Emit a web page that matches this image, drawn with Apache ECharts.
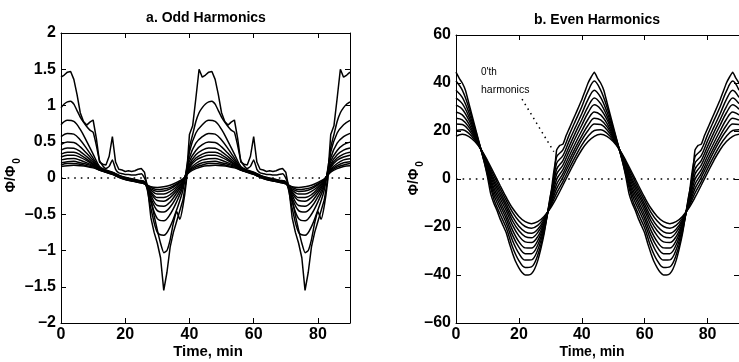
<!DOCTYPE html>
<html>
<head>
<meta charset="utf-8">
<script src="https://cdn.jsdelivr.net/npm/echarts@6/dist/echarts.min.js"></script>
<style>
html,body{margin:0;padding:0;background:#fff;}
#chart{width:739px;height:362px;}
</style>
</head>
<body>
<div id="chart"></div>
<script>
// ---------- time grids (min) ----------
const T2 = [0,2,4,6,8,10,12,14,16,18,20,22,24,26,28,30,32,34,36,38,40,42,44,46,48,50,52,54,56,58,60,62,64,66,68,70,72,74,76,78,80,82,84,86,88,90];
const T1 = [0,1,2,3,4,5,6,7,8,9,10,11,12,13,14,15,16,17,18,19,20,21,22,23,24,25,26,27,28,29,30,31,32,33,34,35,36,37,38,39,40,41,42,43,44,45,46,47,48,49,50,51,52,53,54,55,56,57,58,59,60,61,62,63,64,65,66,67,68,69,70,71,72,73,74,75,76,77,78,79,80,81,82,83,84,85,86,87,88,89,90];

// ---------- a. Odd harmonics (Phi/Phi0) ----------
const oddK0 = [0.16,0.17,0.175,0.17,0.16,0.14,0.11,0.08,0.05,0.01,-0.02,-0.04,-0.06,-0.08,-0.12,-0.13,-0.12,-0.10,-0.06,-0.01,0.08,0.13,
0.16,0.17,0.175,0.17,0.16,0.14,0.11,0.08,0.05,0.01,-0.02,-0.04,-0.06,-0.08,-0.12,-0.13,-0.12,-0.10,-0.06,-0.01,0.08,0.13,0.16,0.17];
const oddK1 = [0.18,0.20,0.20,0.19,0.17,0.15,0.11,0.08,0.05,0.01,-0.02,-0.04,-0.06,-0.08,-0.13,-0.16,-0.15,-0.13,-0.08,-0.02,0.09,0.15,
0.18,0.20,0.20,0.19,0.17,0.15,0.11,0.08,0.05,0.01,-0.02,-0.04,-0.06,-0.08,-0.13,-0.16,-0.15,-0.13,-0.08,-0.02,0.09,0.15,0.18,0.20];
const oddK2 = [0.21,0.225,0.23,0.21,0.19,0.16,0.11,0.085,0.055,0.015,-0.015,-0.035,-0.055,-0.075,-0.15,-0.185,-0.18,-0.15,-0.095,-0.02,0.105,0.17,
0.21,0.225,0.23,0.21,0.19,0.16,0.11,0.085,0.055,0.015,-0.015,-0.035,-0.055,-0.075,-0.15,-0.185,-0.18,-0.15,-0.095,-0.02,0.105,0.17,0.21,0.225];
const oddK3 = [0.25,0.265,0.27,0.245,0.21,0.17,0.12,0.09,0.06,0.02,-0.01,-0.03,-0.05,-0.07,-0.165,-0.22,-0.22,-0.185,-0.12,-0.03,0.12,0.20,
0.25,0.265,0.27,0.245,0.21,0.17,0.12,0.09,0.06,0.02,-0.01,-0.03,-0.05,-0.07,-0.165,-0.22,-0.22,-0.185,-0.12,-0.03,0.12,0.20,0.25,0.265];
const oddK4 = [0.29,0.315,0.315,0.285,0.24,0.185,0.12,0.09,0.06,0.02,-0.01,-0.03,-0.05,-0.07,-0.19,-0.27,-0.27,-0.23,-0.145,-0.045,0.145,0.245,
0.29,0.315,0.315,0.285,0.24,0.185,0.12,0.09,0.06,0.02,-0.01,-0.03,-0.05,-0.07,-0.19,-0.27,-0.27,-0.23,-0.145,-0.045,0.145,0.245,0.29,0.315];
const oddK5 = [0.33,0.355,0.355,0.32,0.26,0.195,0.125,0.095,0.065,0.025,-0.005,-0.025,-0.045,-0.065,-0.21,-0.31,-0.32,-0.27,-0.175,-0.055,0.165,0.275,
0.33,0.355,0.355,0.32,0.26,0.195,0.125,0.095,0.065,0.025,-0.005,-0.025,-0.045,-0.065,-0.21,-0.31,-0.32,-0.27,-0.175,-0.055,0.165,0.275,0.33,0.355];
const oddK6 = [0.385,0.415,0.41,0.365,0.295,0.215,0.13,0.10,0.07,0.03,0.0,-0.02,-0.04,-0.06,-0.24,-0.38,-0.39,-0.33,-0.21,-0.07,0.19,0.32,
0.385,0.415,0.41,0.365,0.295,0.215,0.13,0.10,0.07,0.03,0.0,-0.02,-0.04,-0.06,-0.24,-0.38,-0.39,-0.33,-0.21,-0.07,0.19,0.32,0.385,0.415];
const oddK7 = [0.46,0.495,0.49,0.43,0.34,0.24,0.135,0.10,0.07,0.03,0.0,-0.02,-0.04,-0.06,-0.28,-0.45,-0.47,-0.40,-0.26,-0.09,0.23,0.38,
0.46,0.495,0.49,0.43,0.34,0.24,0.135,0.10,0.07,0.03,0.0,-0.02,-0.04,-0.06,-0.28,-0.45,-0.47,-0.40,-0.26,-0.09,0.23,0.38,0.46,0.495];
const oddK8 = [0.57,0.615,0.605,0.525,0.405,0.275,0.145,0.105,0.075,0.035,0.005,-0.015,-0.035,-0.055,-0.33,-0.56,-0.59,-0.50,-0.33,-0.11,0.28,0.48,
0.57,0.615,0.605,0.525,0.405,0.275,0.145,0.105,0.075,0.035,0.005,-0.015,-0.035,-0.055,-0.33,-0.56,-0.59,-0.50,-0.33,-0.11,0.28,0.48,0.57,0.615];
const oddK9 = [0.735,0.795,0.78,0.67,0.505,0.33,0.16,0.11,0.08,0.04,0.01,-0.01,-0.03,-0.05,-0.42,-0.75,-0.79,-0.67,-0.44,-0.16,0.36,0.62,
0.735,0.795,0.78,0.67,0.505,0.33,0.16,0.11,0.08,0.04,0.01,-0.01,-0.03,-0.05,-0.42,-0.75,-0.79,-0.67,-0.44,-0.16,0.36,0.62,0.735,0.795];
const oddK10 = [0.97,1.02,1.05,1.06,1.02,0.93,0.84,0.77,0.71,0.66,0.63,0.45,0.24,0.17,0.13,0.16,0.25,0.12,0.07,0.06,0.05,0.05,0.04,0.04,0.05,0.06,0.0,-0.12,-0.3,-0.52,-0.72,-0.9,-1.03,-1.0,-0.85,-0.62,-0.46,-0.57,-0.38,-0.06,0.42,0.6,0.78,0.9,
0.97,1.02,1.05,1.06,1.02,0.93,0.84,0.77,0.71,0.66,0.63,0.45,0.24,0.17,0.13,0.16,0.25,0.12,0.07,0.06,0.05,0.05,0.04,0.04,0.05,0.06,0.0,-0.12,-0.3,-0.52,-0.72,-0.9,-1.03,-1.0,-0.85,-0.62,-0.46,-0.57,-0.38,-0.06,0.42,0.6,0.78,0.9,
0.97,1.02,1.05];
const oddK11 = [1.39,1.42,1.46,1.47,1.36,1.15,0.9,0.78,0.73,0.77,0.8,0.55,0.22,0.19,0.18,0.3,0.57,0.22,0.12,0.11,0.09,0.1,0.09,0.1,0.12,0.13,0.08,-0.15,-0.55,-0.75,-0.9,-1.1,-1.55,-1.3,-0.95,-0.75,-0.6,-0.45,-0.3,-0.02,0.6,0.72,1.1,1.5,
1.39,1.42,1.46,1.47,1.36,1.15,0.9,0.78,0.73,0.77,0.8,0.55,0.22,0.19,0.18,0.3,0.57,0.22,0.12,0.11,0.09,0.1,0.09,0.1,0.12,0.13,0.08,-0.15,-0.55,-0.75,-0.9,-1.1,-1.55,-1.3,-0.95,-0.75,-0.6,-0.45,-0.3,-0.02,0.6,0.72,1.1,1.5,
1.39,1.42,1.46];

// ---------- b. Even harmonics (Phi/Phi0) ----------
const evenK0 = [17.8,18.6,17.8,15.6,12.2,7.7,2.6,-2.6,-7.7,-12.2,-15.6,-17.8,-18.6,-17.8,-15.6,-12.2,-7.7,-2.6,2.6,7.7,12.2,15.6,
17.8,18.6,17.8,15.6,12.2,7.7,2.6,-2.6,-7.7,-12.2,-15.6,-17.8,-18.6,-17.8,-15.6,-12.2,-7.7,-2.6,2.6,7.7,12.2,15.6,17.8,18.6];
const evenK1 = [20.2,20.5,19.1,16.2,12.2,7.1,1.5,-3.9,-9.0,-13.9,-17.5,-19.8,-20.5,-19.3,-16.3,-11.7,-5.9,-1.1,4.3,9.4,14.1,17.8,
20.2,20.5,19.1,16.2,12.2,7.1,1.5,-3.9,-9.0,-13.9,-17.5,-19.8,-20.5,-19.3,-16.3,-11.7,-5.9,-1.1,4.3,9.4,14.1,17.8,20.2,20.5];
const evenK2 = [22.9,22.7,20.5,16.8,12.2,6.4,0.2,-5.2,-10.5,-15.8,-19.7,-22.0,-22.6,-20.9,-17.0,-11.2,-4.0,0.7,6.1,11.4,16.2,20.2,
22.9,22.7,20.5,16.8,12.2,6.4,0.2,-5.2,-10.5,-15.8,-19.7,-22.0,-22.6,-20.9,-17.0,-11.2,-4.0,0.7,6.1,11.4,16.2,20.2,22.9,22.7];
const evenK3 = [25.3,24.6,21.8,17.4,12.1,5.8,-0.9,-6.5,-11.8,-17.5,-21.6,-24.0,-24.5,-22.3,-17.7,-10.7,-2.2,2.2,7.8,13.1,18.0,22.4,
25.3,24.6,21.8,17.4,12.1,5.8,-0.9,-6.5,-11.8,-17.5,-21.6,-24.0,-24.5,-22.3,-17.7,-10.7,-2.2,2.2,7.8,13.1,18.0,22.4,25.3,24.6];
const evenK4 = [27.9,26.7,23.2,18.0,12.1,5.2,-2.2,-7.9,-13.3,-19.3,-23.7,-26.2,-26.5,-24.0,-18.4,-10.2,-0.2,3.9,9.6,15.0,20.1,24.9,
27.9,26.7,23.2,18.0,12.1,5.2,-2.2,-7.9,-13.3,-19.3,-23.7,-26.2,-26.5,-24.0,-18.4,-10.2,-0.2,3.9,9.6,15.0,20.1,24.9,27.9,26.7];
const evenK5 = [30.9,29.1,24.8,18.7,12.1,4.4,-3.6,-9.4,-15.0,-21.4,-26.1,-28.7,-28.8,-25.7,-19.2,-9.7,2.0,5.8,11.6,17.2,22.4,27.6,
30.9,29.1,24.8,18.7,12.1,4.4,-3.6,-9.4,-15.0,-21.4,-26.1,-28.7,-28.8,-25.7,-19.2,-9.7,2.0,5.8,11.6,17.2,22.4,27.6,30.9,29.1];
const evenK6 = [33.8,31.4,26.3,19.4,12.1,3.7,-5.0,-10.9,-16.6,-23.5,-28.4,-31.1,-31.1,-27.5,-20.0,-9.1,4.1,7.7,13.6,19.3,24.7,30.2,
33.8,31.4,26.3,19.4,12.1,3.7,-5.0,-10.9,-16.6,-23.5,-28.4,-31.1,-31.1,-27.5,-20.0,-9.1,4.1,7.7,13.6,19.3,24.7,30.2,33.8,31.4];
const evenK7 = [37.0,34.0,28.0,20.2,12.1,2.9,-6.5,-12.6,-18.4,-25.7,-31.0,-33.8,-33.7,-29.5,-20.9,-8.5,6.5,9.7,15.9,21.6,27.2,33.2,
37.0,34.0,28.0,20.2,12.1,2.9,-6.5,-12.6,-18.4,-25.7,-31.0,-33.8,-33.7,-29.5,-20.9,-8.5,6.5,9.7,15.9,21.6,27.2,33.2,37.0,34.0];
const evenK8 = [40.8,37.0,30.0,21.1,12.0,1.9,-8.2,-14.6,-20.4,-28.4,-34.0,-36.9,-36.6,-31.7,-22.0,-7.7,9.2,12.1,18.4,24.3,30.1,36.6,
40.8,37.0,30.0,21.1,12.0,1.9,-8.2,-14.6,-20.4,-28.4,-34.0,-36.9,-36.6,-31.7,-22.0,-7.7,9.2,12.1,18.4,24.3,30.1,36.6,40.8,37.0];
const evenK9 = [44.5,42,40,37,32,27,22,17,12,7,1,-6,-10,-13,-16.5,-19.5,-22.5,-27,-31,-34.5,-37,-39,-40,-40,-39.5,-37.5,-34,-29,-23,-15,-7,-1,12,14,14.5,18,21,24,27,30,33,36.5,40,42.5,
44.5,42,40,37,32,27,22,17,12,7,1,-6,-10,-13,-16.5,-19.5,-22.5,-27,-31,-34.5,-37,-39,-40,-40,-39.5,-37.5,-34,-29,-23,-15,-7,-1,12,14,14.5,18,21,24,27,30,33,36.5,40,42.5,
44.5,42,40];

// annotation "0'th harmonics" pointer (data coords of panel b)
const ANNOT_T = [21.0, 31.1];
const ANNOT_V = [33.3, 11.4];
const ZERO_T = [0, 90];
const ZERO_V = [0, 0];

// ---------- build ----------
const FONT = '"Liberation Sans", Arial, Helvetica, sans-serif';
function pairs(ts, vs){ return ts.map((t,i)=>[t, vs[i]]); }
function curve(name, ts, vs, gi, smooth){
  return {
    name, type:'line', xAxisIndex: gi*2, yAxisIndex: gi*2, data: pairs(ts, vs),
    showSymbol:false, symbol:'none', smooth: smooth, silent:true,
    lineStyle:{color:'#000', width:1.5}, z:3
  };
}
function dotted(ts, vs, gi){
  return {
    type:'line', xAxisIndex: gi*2, yAxisIndex: gi*2, data: pairs(ts, vs),
    showSymbol:false, symbol:'none', silent:true,
    lineStyle:{color:'#000', width:1.6, type:[1.6,5]}, z:2
  };
}
const series = [];
series.push(dotted(ZERO_T, ZERO_V, 0));
[oddK0,oddK1,oddK2,oddK3,oddK4,oddK5,oddK6,oddK7,oddK8,oddK9].forEach((v,i)=>series.push(curve('odd'+i, T2, v, 0, 0.35)));
series.push(curve('odd10', T1, oddK10, 0, 0.15));
series.push(curve('odd11', T1, oddK11, 0, false));
series.push(dotted(ZERO_T, ZERO_V, 1));
series.push(Object.assign(dotted(ANNOT_T, ANNOT_V, 1), {lineStyle:{color:'#000', width:1.5, type:[1.5,4]}}));
[evenK0,evenK1,evenK2,evenK3,evenK4,evenK5,evenK6,evenK7,evenK8].forEach((v,i)=>series.push(curve('even'+i, T2, v, 1, 0.35)));
series.push(curve('even9', T1, evenK9, 1, 0.15));

const minus = v => (v < 0 ? '\u2013' + String(Math.abs(v)) : String(v));
const lbl = {color:'#000', fontFamily:FONT, fontWeight:'bold', fontSize:16};
function xAx(gi, pos, show){
  return {type:'value', gridIndex:gi, position:pos, min:0, max:90, interval:20,
    axisLine:{show:true, onZero:false, lineStyle:{color:'#000', width:1}},
    axisTick:{show:true, inside:true, length:5, lineStyle:{color:'#000'}},
    axisLabel: show ? Object.assign({show:true, margin:4, showMaxLabel:false}, lbl) : {show:false},
    splitLine:{show:false}};
}
function yAx(gi, pos, show, mn, mx, iv, line){
  return {type:'value', gridIndex:gi, position:pos, min:mn, max:mx, interval:iv,
    axisLine:{show:line, onZero:false, lineStyle:{color:'#000', width:1}},
    axisTick:{show:true, inside:true, length:5, lineStyle:{color:'#000'}},
    axisLabel: show ? Object.assign({show:true, margin:5, formatter:minus}, lbl) : {show:false},
    splitLine:{show:false}};
}

const txt = (x, y, text, font, rot) => ({type:'text', x, y, rotation: rot||0, silent:true,
  style:{text, font, fill:'#000', align:'center', verticalAlign:'middle'}});

const option = {
  animation:false,
  backgroundColor:'#fff',
  grid:[
    {left:61, top:33, width:289, height:290, containLabel:false},
    {left:456, top:35, width:283, height:288, containLabel:false}
  ],
  xAxis:[ xAx(0,'bottom',true), xAx(0,'top',false), xAx(1,'bottom',true), xAx(1,'top',false) ],
  yAxis:[ yAx(0,'left',true,-2,2,0.5,true), yAx(0,'right',false,-2,2,0.5,true),
          yAx(1,'left',true,-60,60,20,true), yAx(1,'right',false,-60,60,20,false) ],
  series,
  graphic:[
    txt(206, 18, 'a. Odd Harmonics', 'bold 14px ' + FONT),
    txt(597, 20, 'b. Even Harmonics', 'bold 14px ' + FONT),
    txt(208, 352, 'Time, min', 'bold 15px ' + FONT),
    txt(592, 352, 'Time, min', 'bold 14px ' + FONT),
    txt(11.5, 179, '\u03A6/\u03A6', 'bold 14px ' + FONT, Math.PI/2),
    txt(17.5, 161, '0', 'bold 10px ' + FONT, Math.PI/2),
    txt(414, 182, '\u03A6/\u03A6', 'bold 14px ' + FONT, Math.PI/2),
    txt(420, 164, '0', 'bold 10px ' + FONT, Math.PI/2),
    {type:'text', x:481, y:72, silent:true, style:{text:"0'th", font:'10px ' + FONT, fill:'#000', align:'left', verticalAlign:'middle'}},
    {type:'text', x:481, y:90, silent:true, style:{text:'harmonics', font:'10.5px ' + FONT, fill:'#000', align:'left', verticalAlign:'middle'}}
  ]
};
const chart = echarts.init(document.getElementById('chart'), null, {renderer:'canvas'});
chart.setOption(option);
</script>
</body>
</html>
